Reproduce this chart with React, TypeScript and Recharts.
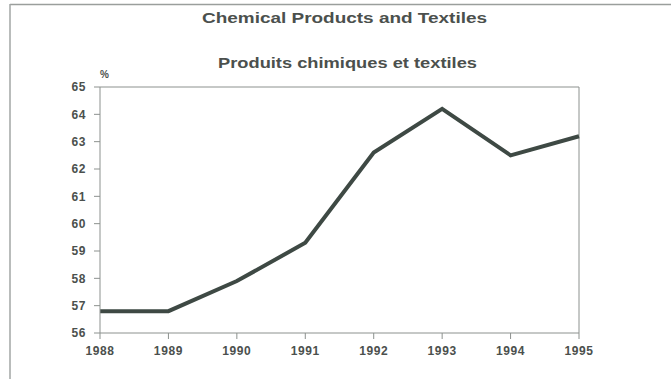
import React from 'react';
import { LineChart, Line, XAxis, YAxis, ReferenceLine } from 'recharts';

// Share of chemical products and textiles, in percent
const years = ['1988', '1989', '1990', '1991', '1992', '1993', '1994', '1995'];
const shares = [56.8, 56.8, 57.9, 59.3, 62.6, 64.2, 62.5, 63.2];
const yTicks = [56, 57, 58, 59, 60, 61, 62, 63, 64, 65];

const titleEn = 'Chemical Products and Textiles';
const titleFr = 'Produits chimiques et textiles';
const unitLabel = '%';

const rows = years.map((year, i) => ({ year, share: shares[i] }));

const FONT = '"Liberation Sans", Arial, Helvetica, sans-serif';
const TEXT = '#4b504d';
const AXIS = '#8c918e';

export default function App() {
  return (
    <div
      style={{
        position: 'absolute',
        left: 0,
        top: 0,
        width: 671,
        height: 379,
        background: '#ffffff',
        overflow: 'hidden',
      }}
    >
      <LineChart
        width={671}
        height={379}
        data={rows}
        margin={{ top: 87, right: 92, bottom: 16, left: 0 }}
      >
        <XAxis
          dataKey="year"
          height={30}
          stroke={AXIS}
          tickSize={6}
          tickMargin={7}
          tickLine={{ stroke: AXIS }}
          tick={{ fill: TEXT, fontSize: 12, fontWeight: 700, fontFamily: FONT, letterSpacing: 0.6 }}
          interval={0}
        />
        <YAxis
          width={100}
          domain={[56, 65]}
          ticks={yTicks}
          interval={0}
          stroke={AXIS}
          tickSize={6}
          tickMargin={8}
          tickLine={{ stroke: AXIS }}
          tick={{ fill: TEXT, fontSize: 12, fontWeight: 700, fontFamily: FONT, letterSpacing: 0.6 }}
        />
        <ReferenceLine y={65} stroke={AXIS} strokeWidth={1} />
        <ReferenceLine x="1995" stroke={AXIS} strokeWidth={1} />
        <Line
          type="linear"
          dataKey="share"
          stroke="#3e4944"
          strokeWidth={4}
          dot={false}
          activeDot={false}
          isAnimationActive={false}
        />
      </LineChart>
      <svg
        width={671}
        height={379}
        style={{ position: 'absolute', left: 0, top: 0, pointerEvents: 'none' }}
      >
        <line x1={10} y1={4.5} x2={671} y2={4.5} stroke="#9a9e9c" strokeWidth={1.5} />
        <line x1={10} y1={4} x2={10} y2={379} stroke="#a2a6a4" strokeWidth={1.5} />
        <text
          x={202}
          y={23}
          textLength={285}
          lengthAdjust="spacingAndGlyphs"
          fill={TEXT}
          fontFamily={FONT}
          fontWeight={700}
          fontSize={14}
        >
          {titleEn}
        </text>
        <text
          x={218}
          y={68}
          textLength={259}
          lengthAdjust="spacingAndGlyphs"
          fill={TEXT}
          fontFamily={FONT}
          fontWeight={700}
          fontSize={15.5}
        >
          {titleFr}
        </text>
        <text x={100} y={78} fill={TEXT} fontFamily={FONT} fontWeight={700} fontSize={10}>
          {unitLabel}
        </text>
      </svg>
    </div>
  );
}
